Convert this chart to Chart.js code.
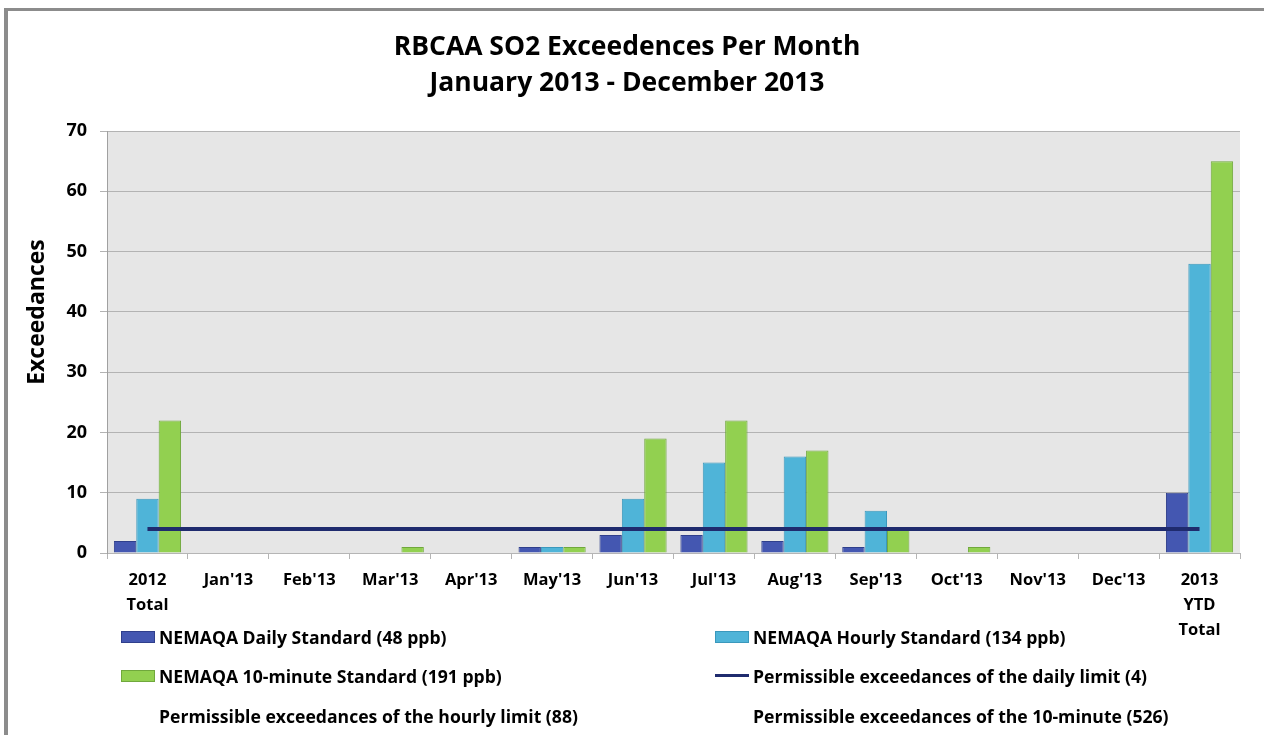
<!DOCTYPE html>
<html>
<head>
<meta charset="utf-8">
<script src="https://cdn.jsdelivr.net/npm/chart.js@4.4.1/dist/chart.umd.min.js"></script>
<style>
  html, body { margin: 0; padding: 0; background: #fff; }
  #wrap { position: relative; width: 1264px; height: 735px; overflow: hidden; background: #fff; }
  #frame { position: absolute; left: 4px; top: 8px; width: 1300px; height: 800px;
           border-left: 4px solid #8c8c8c; border-top: 3px solid #8c8c8c; box-sizing: border-box; }
  #c { position: absolute; left: 0; top: 0; }
  #legend { position: absolute; left: 0; top: 0; width: 1264px; height: 735px; pointer-events: none;
            font-family: "Open Sans", sans-serif; font-weight: 700; font-size: 17.6px; color: #000; }
  .item { position: absolute; display: flex; align-items: center; height: 30px; white-space: nowrap; }
  .sym { width: 34px; height: 12px; margin-right: 4px; box-sizing: border-box; flex: none; }
  .line { width: 34px; height: 12px; margin-right: 4px; position: relative; flex: none; }
  .line i { position: absolute; left: 0; right: 0; top: 4px; height: 4px; }
</style>
</head>
<body>
<div id="wrap">
  <div id="frame"></div>
  <canvas id="c" width="1264" height="735"></canvas>
  <div id="legend"></div>
</div>
<script>
// ---- data ----
const categories = [
  ['2012', 'Total'], "Jan'13", "Feb'13", "Mar'13", "Apr'13", "May'13", "Jun'13",
  "Jul'13", "Aug'13", "Sep'13", "Oct'13", "Nov'13", "Dec'13", ['2013', 'YTD', 'Total']
];
const dailyStandard   = [2, 0, 0, 0, 0, 1, 3, 3, 2, 1, 0, 0, 0, 10];
const hourlyStandard  = [9, 0, 0, 0, 0, 1, 9, 15, 16, 7, 0, 0, 0, 48];
const tenMinStandard  = [22, 0, 0, 1, 0, 1, 19, 22, 17, 4, 1, 0, 0, 65];
const dailyLimit      = [4, 4, 4, 4, 4, 4, 4, 4, 4, 4, 4, 4, 4, 4];
const hourlyLimit     = [88, 88, 88, 88, 88, 88, 88, 88, 88, 88, 88, 88, 88, 88];
const tenMinLimit     = [526, 526, 526, 526, 526, 526, 526, 526, 526, 526, 526, 526, 526, 526];
const yTicks          = [0, 10, 20, 30, 40, 50, 60, 70];

const seriesNames = [
  'NEMAQA Daily Standard (48 ppb)',
  'NEMAQA Hourly Standard (134 ppb)',
  'NEMAQA 10-minute Standard (191 ppb)',
  'Permissible exceedances of the daily limit (4)',
  'Permissible exceedances of the hourly limit (88)',
  'Permissible exceedances of the 10-minute (526)'
];
const titleLines = ['RBCAA SO2 Exceedences Per Month', 'January 2013 - December 2013'];
const yTitle = 'Exceedances';

const FONT = '"Open Sans", sans-serif';

const plotBg = {
  id: 'plotBg',
  beforeDraw(chart) {
    const {ctx, chartArea: a} = chart;
    ctx.save();
    ctx.fillStyle = '#e6e6e6';
    ctx.fillRect(a.left, a.top, a.right - a.left, a.bottom - a.top);
    ctx.restore();
  }
};

// y-axis title, placed a little above the axis centre as in the reference
const yAxisTitle = {
  id: 'yAxisTitle',
  afterDraw(chart) {
    const {ctx, chartArea: a} = chart;
    ctx.save();
    ctx.translate(37, (a.top + a.bottom) / 2 - 30);
    ctx.rotate(-Math.PI / 2);
    ctx.font = 'bold 23px ' + FONT;
    ctx.fillStyle = '#000';
    ctx.textAlign = 'center';
    ctx.textBaseline = 'middle';
    ctx.fillText(yTitle, 0, 0);
    ctx.restore();
  }
};

const chart = new Chart(document.getElementById('c'), {
  data: {
    labels: categories,
    datasets: [
      { type: 'bar', label: seriesNames[0], data: dailyStandard, backgroundColor: '#4457B1',
        borderColor: '#2F3F8C', borderWidth: 1, order: 2 },
      { type: 'bar', label: seriesNames[1], data: hourlyStandard, backgroundColor: '#4FB4D8',
        borderColor: '#3A98BC', borderWidth: 1, order: 2 },
      { type: 'bar', label: seriesNames[2], data: tenMinStandard, backgroundColor: '#92D050',
        borderColor: '#70A83C', borderWidth: 1, order: 2 },
      { type: 'line', label: seriesNames[3], data: dailyLimit, borderColor: '#1F2B6E',
        backgroundColor: '#1F2B6E', borderWidth: 4, pointRadius: 0, order: 0 },
      { type: 'line', label: seriesNames[4], data: hourlyLimit, borderColor: 'rgba(0,0,0,0)',
        backgroundColor: 'rgba(0,0,0,0)', borderWidth: 0, pointRadius: 0, order: 0 },
      { type: 'line', label: seriesNames[5], data: tenMinLimit, borderColor: 'rgba(0,0,0,0)',
        backgroundColor: 'rgba(0,0,0,0)', borderWidth: 0, pointRadius: 0, order: 0 }
    ]
  },
  options: {
    responsive: false,
    animation: false,
    devicePixelRatio: 1,
    datasets: { bar: { categoryPercentage: 0.83, barPercentage: 1.0 } },
    layout: { padding: { left: 14, right: 24, top: 0, bottom: 0 } },
    plugins: {
      legend: { display: false },
      tooltip: { enabled: false },
      title: {
        display: true, text: titleLines, color: '#000',
        font: { family: FONT, size: 26.5, weight: 'bold', lineHeight: 1.36 },
        padding: { top: 29, bottom: 30 }
      }
    },
    scales: {
      x: {
        grid: { offset: true, drawOnChartArea: false, drawTicks: true, tickLength: 6, color: '#b5b5b5' },
        border: { color: '#b5b5b5', width: 1 },
        ticks: { color: '#000', autoSkip: false, maxRotation: 0, minRotation: 0, padding: 9,
                 font: { family: FONT, size: 16.5, weight: 'bold', lineHeight: 1.52 } },
        afterFit(s) { s.height = 182; }
      },
      y: {
        min: 0, max: 70,
        afterBuildTicks(s) { s.ticks = yTicks.map(v => ({ value: v })); },
        grid: { color: '#b3b3b3', tickLength: 7, lineWidth: 1 },
        border: { color: '#a0a0a0', width: 1 },
        ticks: { color: '#000', padding: 13,
                 font: { family: FONT, size: 18, weight: 'bold' } },
        afterFit(s) { s.width = 93; }
      }
    }
  },
  plugins: [plotBg, yAxisTitle]
});

// ---- HTML legend built from the chart's datasets ----
const legendPos = [
  { x: 121, y: 637 }, { x: 715, y: 637 },
  { x: 121, y: 676 }, { x: 715, y: 676 },
  { x: 121, y: 716 }, { x: 715, y: 716 }
];
const legendEl = document.getElementById('legend');
chart.data.datasets.forEach((ds, i) => {
  const p = legendPos[i];
  const item = document.createElement('div');
  item.className = 'item';
  item.style.left = p.x + 'px';
  item.style.top = (p.y - 15) + 'px';
  let sym;
  if (ds.type === 'bar') {
    sym = document.createElement('span');
    sym.className = 'sym';
    sym.style.background = ds.backgroundColor;
    sym.style.border = '1px solid ' + ds.borderColor;
  } else {
    sym = document.createElement('span');
    sym.className = 'line';
    const bar = document.createElement('i');
    bar.style.background = ds.borderColor;
    bar.style.height = Math.max(ds.borderWidth - 1, 0) + 'px';
    sym.appendChild(bar);
  }
  item.appendChild(sym);
  const t = document.createElement('span');
  t.textContent = ds.label;
  item.appendChild(t);
  legendEl.appendChild(item);
});
</script>
</body>
</html>
